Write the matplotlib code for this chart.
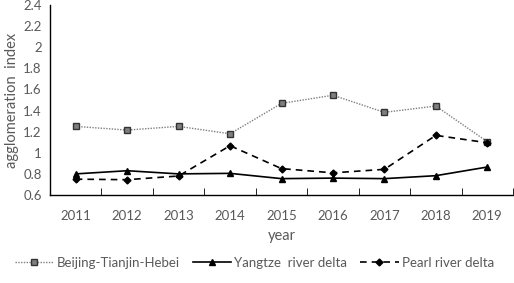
import matplotlib
matplotlib.use("Agg")
import matplotlib.pyplot as plt
import numpy as np

years = ["2011", "2012", "2013", "2014", "2015", "2016", "2017", "2018", "2019"]
bth = [1.25, 1.215, 1.25, 1.18, 1.468, 1.545, 1.383, 1.443, 1.105]
yangtze = [0.80, 0.83, 0.80, 0.805, 0.755, 0.76, 0.755, 0.783, 0.865]
pearl = [0.75, 0.745, 0.78, 1.067, 0.85, 0.81, 0.843, 1.165, 1.095]

plt.rcParams['font.family'] = ['Lato', 'DejaVu Sans']
txt = '#595959'

fig = plt.figure(figsize=(5.14, 2.83), dpi=100)
ax = fig.add_axes([50/514, 1 - 195/283, 463/514, 190/283])

x = np.arange(len(years))
ax.plot(x, bth, color='#7f7f7f', lw=1, ls=(0, (1, 1)), marker='s', ms=5,
        mfc='#7f7f7f', mec='#333333', mew=1, label='Beijing-Tianjin-Hebei')
ax.plot(x, yangtze, color='black', lw=1.2, marker='^', ms=5,
        label='Yangtze  river delta')
ax.plot(x, pearl, color='black', lw=1.2, ls=(0, (4, 3)), marker='D', ms=3.5,
        label='Pearl river delta')

ax.set_xlim(-0.5, len(years) - 0.5)
ax.set_ylim(0.6, 2.4)
ax.set_yticks(np.arange(0.6, 2.41, 0.2))
ax.set_yticklabels(['0.6', '0.8', '1', '1.2', '1.4', '1.6', '1.8', '2', '2.2', '2.4'])
ax.set_xticks(x)
ax.set_xticklabels(years)
ax.set_xticks(np.arange(0.5, len(years), 1), minor=True)
ax.tick_params(axis='x', which='major', length=0, pad=11, labelsize=9.5, colors=txt)
ax.tick_params(axis='x', which='minor', length=5, direction='in', color='black')
ax.tick_params(axis='y', length=0, pad=6, labelsize=9.5, colors=txt)
for s in ['top', 'right']:
    ax.spines[s].set_visible(False)
for s in ['left', 'bottom']:
    ax.spines[s].set_color('black')
    ax.spines[s].set_linewidth(1)

ax.set_xlabel('year', fontsize=10.5, color=txt, labelpad=5)
ax.set_ylabel('agglomeration  index', fontsize=10.5, color=txt, labelpad=3)

fig.legend(loc='center', bbox_to_anchor=(0.495, 1 - 263/283), ncol=3, frameon=False,
           fontsize=9.5, labelcolor=txt, handlelength=2.9, columnspacing=1.0,
           handletextpad=0.25)

fig.savefig('out.png', dpi=100)
